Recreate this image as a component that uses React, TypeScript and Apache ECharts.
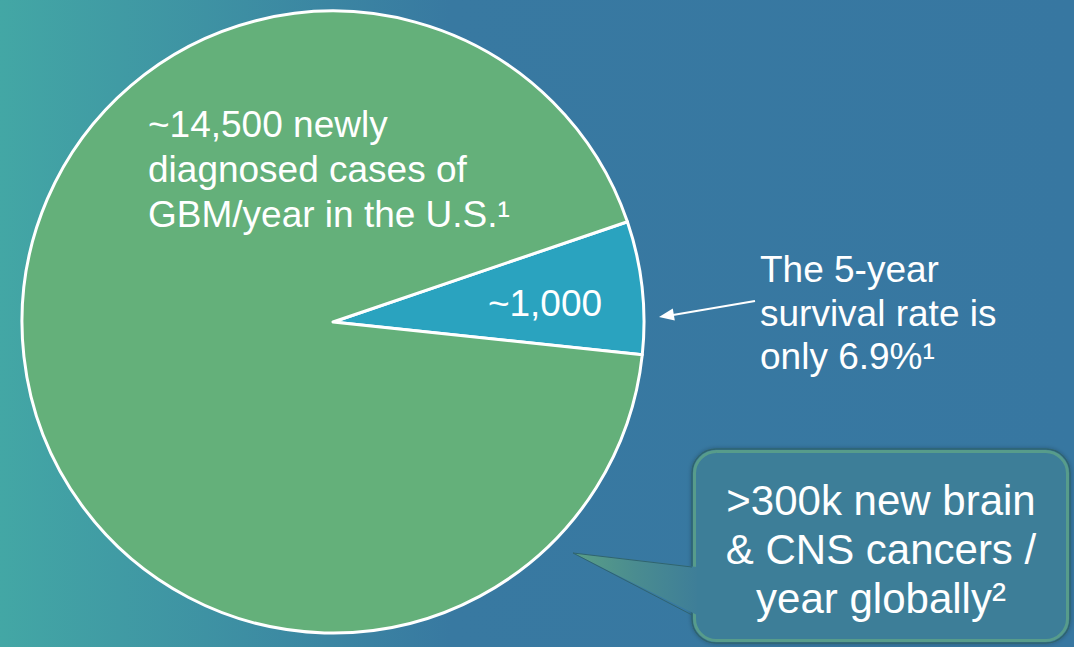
import React, { useEffect, useRef } from "react";
import * as echarts from "echarts";

const categories = ["GBM 5-year survivors", "Newly diagnosed GBM cases/year (U.S.)"];
const values = [1000, 13500];
const sliceColors = ["#2aa3bf", "#64b07a"];
const sliceLabel = "~1,000";
const greenText = ["~14,500 newly", "diagnosed cases of", "GBM/year in the U.S.¹"];
const survivalText = ["The 5-year", "survival rate is", "only 6.9%¹"];
const calloutText = [">300k new brain", "& CNS cancers /", "year globally²"];

const FONT = '"Liberation Sans", Arial, sans-serif';

export default function App() {
  const ref = useRef<HTMLDivElement>(null);
  useEffect(() => {
    if (!ref.current) return;
    const chart = echarts.init(ref.current, null, { renderer: "svg" });
    const boxFill = "#3e7e98";
    chart.setOption({
      animation: false,
      backgroundColor: {
        type: "linear",
        x: 0,
        y: 0,
        x2: 1,
        y2: 0,
        colorStops: [
          { offset: 0, color: "#43a7a5" },
          { offset: 0.42, color: "#3879a1" },
          { offset: 1, color: "#3777a1" },
        ],
      },
      series: [
        {
          type: "pie",
          center: [333, 322],
          radius: 311,
          startAngle: 18.8,
          clockwise: true,
          silent: true,
          z: 2,
          label: { show: false },
          labelLine: { show: false },
          itemStyle: { borderColor: "#ffffff", borderWidth: 3 },
          data: categories.map((name, i) => ({
            name,
            value: values[i],
            itemStyle: { color: sliceColors[i] },
          })),
        },
      ],
      graphic: [
        {
          type: "text",
          z: 50,
          x: 148,
          y: 169.5,
          style: {
            text: greenText.join("\n"),
            fill: "#ffffff",
            fontSize: 37,
            fontFamily: FONT,
            lineHeight: 45,
            align: "left",
            verticalAlign: "middle",
          },
        },
        {
          type: "text",
          z: 50,
          x: 545,
          y: 303,
          style: {
            text: sliceLabel,
            fill: "#ffffff",
            fontSize: 37,
            fontFamily: FONT,
            align: "center",
            verticalAlign: "middle",
          },
        },
        {
          type: "text",
          z: 50,
          x: 760,
          y: 313,
          style: {
            text: survivalText.join("\n"),
            fill: "#ffffff",
            fontSize: 37,
            fontFamily: FONT,
            lineHeight: 43.5,
            align: "left",
            verticalAlign: "middle",
          },
        },
        {
          type: "line",
          z: 50,
          shape: { x1: 755, y1: 301, x2: 670, y2: 315.5 },
          style: { stroke: "#ffffff", lineWidth: 2 },
        },
        {
          type: "polygon",
          z: 50,
          shape: { points: [[659, 317], [674.8, 320.4], [672.8, 308.6]] },
          style: { fill: "#ffffff" },
        },
        {
          type: "rect",
          z: 50,
          shape: { x: 692, y: 449, width: 378, height: 194, r: 24 },
          style: {
            fill: boxFill,
            stroke: "#2f6470",
            lineWidth: 1.5,
            shadowColor: "rgba(0,0,0,0.25)",
            shadowBlur: 4,
          },
        },
        {
          type: "rect",
          z: 51,
          shape: { x: 694.5, y: 451.5, width: 373, height: 189, r: 22 },
          style: {
            fill: null,
            stroke: "rgba(110,180,130,0.55)",
            lineWidth: 3,
          },
        },
        {
          type: "polygon",
          z: 52,
          shape: { points: [[573, 553], [697, 567], [697, 615]] },
          style: {
            fill: {
              type: "linear",
              x: 0,
              y: 0,
              x2: 1,
              y2: 0,
              colorStops: [
                { offset: 0, color: "#5a9f86" },
                { offset: 0.5, color: "#4a8c90" },
                { offset: 1, color: boxFill },
              ],
            },
          },
        },
        {
          type: "polyline",
          z: 52,
          shape: { points: [[692, 567], [573, 553], [692, 615]] },
          style: { stroke: "#2f6470", lineWidth: 1, fill: null },
        },
        {
          type: "text",
          z: 55,
          x: 881,
          y: 549,
          style: {
            text: calloutText.join("\n"),
            fill: "#ffffff",
            fontSize: 42,
            fontFamily: FONT,
            lineHeight: 49,
            align: "center",
            verticalAlign: "middle",
          },
        },
      ],
    });
    return () => chart.dispose();
  }, []);
  return (
    <div
      ref={ref}
      style={{ position: "absolute", left: 0, top: 0, width: 1074, height: 647 }}
    />
  );
}
